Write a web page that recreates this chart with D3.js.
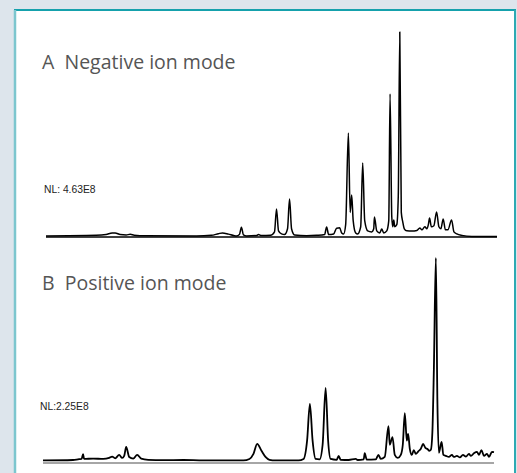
<!DOCTYPE html>
<html>
<head>
<meta charset="utf-8">
<script src="https://cdn.jsdelivr.net/npm/d3@7"></script>
<style>
  body { margin: 0; background: #dde5ec; }
  svg { display: block; }
</style>
</head>
<body>
<div class="chart"></div>
<script>
// retention time (min) and relative intensity (%)
const negTime = [0, 5, 6.0, 6.6, 6.9, 7.4, 8.0, 8.4, 8.8, 10, 15, 16.5, 17.2, 17.6, 18.2, 18.8, 19.0, 19.3, 19.5, 19.7, 20.0, 21.0, 21.2, 21.5, 22.4, 22.8, 23.0, 23.2, 23.5, 23.8, 24.1, 24.3, 24.5, 24.8, 26, 27, 27.8, 28.0, 28.2, 28.7, 29.0, 29.3, 29.5, 29.7, 29.9, 30.17, 30.35, 30.5, 30.65, 30.9, 31.1, 31.4, 31.6, 31.8, 32.1, 32.5, 32.7, 32.77, 33.0, 33.3, 33.5, 33.7, 34.0, 34.2, 34.33, 34.5, 34.6, 34.7, 34.8, 35.0, 35.15, 35.3, 35.45, 35.6, 35.75, 36.0, 36.5, 37.0, 37.3, 37.5, 37.8, 38.0, 38.15, 38.27, 38.45, 38.7, 38.97, 39.2, 39.4, 39.63, 39.85, 40.1, 40.47, 40.7, 41.0, 41.5, 42.5, 45];
const negInt  = [0.5, 0.8, 1.2, 2.0, 2.0, 1.2, 1.0, 1.3, 0.9, 0.6, 0.5, 0.8, 1.6, 2.0, 1.4, 0.6, 0.5, 1.2, 4.8, 1.0, 0.5, 0.7, 1.2, 0.7, 0.8, 2.5, 13.7, 3, 1.5, 1.2, 4, 18.5, 4, 1, 0.6, 0.8, 1.2, 4.9, 1.2, 1.5, 4.3, 4.5, 2, 1.5, 6, 50.7, 12, 20.5, 8, 2, 1.5, 5, 36.1, 8, 3, 2.5, 4, 9.8, 3, 2, 3.9, 2, 3, 8, 69.8, 10, 5, 8.3, 5, 6, 20, 100, 12, 7.3, 4, 3, 2.9, 3.2, 4.4, 3.5, 5, 4, 6, 9.3, 5, 5.5, 12.2, 5, 4, 8.8, 3.5, 3.5, 8.3, 2.5, 1.5, 0.8, 0.3, 0.2];

const posTime = [0, 3.0, 3.6, 3.85, 4.0, 4.1, 5.0, 6.0, 6.6, 6.9, 7.2, 7.6, 7.9, 8.1, 8.3, 8.6, 9.0, 9.4, 9.8, 10.5, 12, 14, 16, 18, 20, 20.6, 21.0, 21.37, 21.8, 22.2, 22.6, 23.2, 25.5, 26.0, 26.35, 26.63, 26.9, 27.2, 27.6, 27.9, 28.2, 28.45, 28.7, 29.3, 29.5, 29.7, 30.5, 31.2, 31.4, 32.0, 32.1, 32.3, 33.2, 33.47, 33.7, 34.1, 34.47, 34.6, 34.87, 35.1, 35.4, 35.7, 35.9, 36.1, 36.3, 36.43, 36.6, 36.8, 37.0, 37.2, 37.47, 37.7, 37.93, 38.15, 38.37, 38.55, 38.7, 38.85, 39.0, 39.2, 39.35, 39.5, 39.77, 39.95, 40.2, 40.5, 40.8, 41.0, 41.3, 41.6, 41.9, 42.2, 42.5, 42.7, 43.0, 43.3, 43.5, 43.75, 44.0, 44.3, 44.5, 44.8, 45.0];
const posInt  = [0.3, 0.5, 0.9, 1, 3.4, 1, 1.2, 1.0, 1.5, 2.2, 1.3, 3.0, 1.5, 2.5, 6.9, 2, 1.2, 3.0, 1.2, 0.6, 0.4, 0.5, 0.3, 0.3, 0.3, 1.0, 3.5, 8.4, 5, 2, 0.6, 0.3, 0.3, 1, 10, 28.1, 10, 1, 0.8, 8, 36, 10, 1, 0.6, 2.5, 0.6, 0.5, 1.0, 0.5, 0.8, 3.9, 0.7, 0.8, 3.0, 1, 2, 17.2, 8, 11.8, 3, 1.5, 3, 8, 23.6, 10, 13.3, 6, 3, 5.4, 3.5, 4.9, 6, 8.4, 6.5, 5.9, 5, 5.5, 14, 45, 100, 30, 4, 9.4, 3, 2.5, 2, 3, 2, 2.5, 1.8, 3, 2.2, 3.5, 2.5, 3.8, 4.5, 3, 5.4, 2.5, 3.5, 2, 4.5, 4.4];

const panels = [
  { title: "A  Negative ion mode", nl: "NL: 4.63E8", time: negTime, inten: negInt },
  { title: "B  Positive ion mode", nl: "NL:2.25E8", time: posTime, inten: posInt }
];

const w = 517, h = 473;

const svg = d3.select(".chart").append("svg")
  .attr("width", w)
  .attr("height", h);

// white card with teal edges
svg.append("rect")
  .attr("x", 15).attr("y", 10)
  .attr("width", 500).attr("height", h)
  .attr("fill", "#fff");
svg.append("line")
  .attr("x1", 14).attr("x2", 516).attr("y1", 10).attr("y2", 10)
  .attr("stroke", "#15a1ac").attr("stroke-width", 2);
svg.append("line")
  .attr("x1", 15).attr("x2", 15).attr("y1", 10).attr("y2", h)
  .attr("stroke", "#7cc6ce").attr("stroke-width", 2.5);
svg.append("line")
  .attr("x1", 515).attr("x2", 515).attr("y1", 10).attr("y2", h)
  .attr("stroke", "#2eaab3").attr("stroke-width", 2);

// layout of each chromatogram
const layout = [
  { x0: 46, x1: 497, base: 237, top: 32, axis: 237, axisColor: "#000", titleY: 69, nlX: 44, nlY: 193, sw: 1.5 },
  { x0: 43, x1: 494, base: 461, top: 258, axis: 463, axisColor: "#888", titleY: 290, nlX: 40, nlY: 410, sw: 1.8 }
];

panels.forEach(function(p, i) {
  const L = layout[i];
  const x = d3.scaleLinear().domain([0, 45]).range([L.x0, L.x1]);
  const y = d3.scaleLinear().domain([0, 100]).range([L.base, L.top]);

  const g = svg.append("g").attr("class", "panel-" + i);

  g.append("text")
    .attr("x", 42).attr("y", L.titleY)
    .style("white-space", "pre")
    .attr("font-family", "'Open Sans', sans-serif")
    .attr("font-size", 19.5)
    .attr("fill", "#555")
    .text(p.title);

  g.append("text")
    .attr("x", L.nlX).attr("y", L.nlY)
    .attr("font-family", "'Liberation Sans', Arial, sans-serif")
    .attr("font-size", 10.3)
    .attr("fill", "#222")
    .text(p.nl);

  g.append("line")
    .attr("x1", x(0)).attr("x2", x(45))
    .attr("y1", L.axis).attr("y2", L.axis)
    .attr("stroke", L.axisColor)
    .attr("stroke-width", 1.5);

  const pts = p.time.map(function(t, k) { return [t, p.inten[k]]; });
  const line = d3.line()
    .x(function(d) { return x(d[0]); })
    .y(function(d) { return y(d[1]); })
    .curve(d3.curveMonotoneX);

  g.append("path")
    .datum(pts)
    .attr("d", line)
    .attr("fill", "none")
    .attr("stroke", "#000")
    .attr("stroke-width", L.sw)
    .attr("stroke-linejoin", "round");
});
</script>
</body>
</html>
